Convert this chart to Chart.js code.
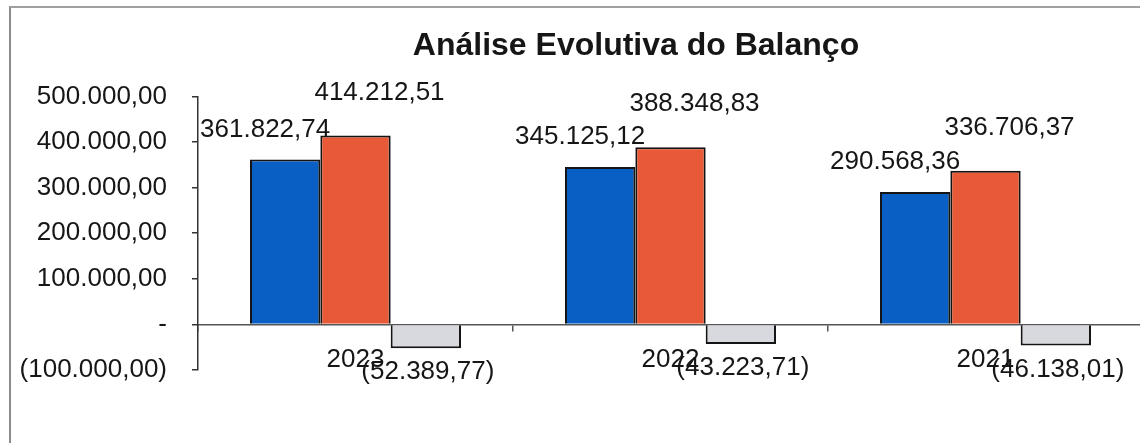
<!DOCTYPE html>
<html lang="pt-BR">
<head>
<meta charset="utf-8">
<title>Análise Evolutiva do Balanço</title>
<script src="https://cdn.jsdelivr.net/npm/chart.js@4.4.1/dist/chart.umd.min.js"></script>
<style>
  html,body{margin:0;padding:0;background:#fff;overflow:hidden}
  /* the scan is cut off on the right: the chart itself is wider than the window */
  #wrap{position:relative;width:1272px;height:443px}
  /* scanned frame: only left + top edges are visible in the picture */
  #frame{position:absolute;left:9px;top:6px;width:1300px;height:460px;border-left:2px solid #8c8c8c;border-top:2px solid #a0a0a0}
  #chart{position:absolute;left:0;top:0}
</style>
</head>
<body>
<div id="wrap">
  <div id="frame"></div>
  <canvas id="chart" width="1272" height="443"></canvas>
</div>
<script>
/* ── Data ── */
var categories = ['2023', '2022', '2021'];
var serie1 = [361822.74, 345125.12, 290568.36];   // azul
var serie2 = [414212.51, 388348.83, 336706.37];   // laranja
var serie3 = [-52389.77, -43223.71, -46138.01];   // cinza
var yMin = -100000, yMax = 500000, yStep = 100000;

var FONT = '"Liberation Sans", Arial, sans-serif';
var INK = '#161616';

/* ── pt-BR number format, accounting style: negatives in (), zero as "-" ── */
function fmtBR(v){
  if(v === 0) return '-';
  var abs = Math.abs(v);
  var parts = abs.toFixed(2).split('.');
  var intPart = parts[0].replace(/\B(?=(\d{3})+(?!\d))/g, '.');
  var s = intPart + ',' + parts[1];
  return v < 0 ? '(' + s + ')' : s;
}

/* ── Value labels (dragged around in the original, so each series gets its own nudge) ── */
var labelNudge = [
  {dx:-20, dy:-30},  // serie1: up-left of the bar top
  {dx: 24, dy:-43},  // serie2: up-right
  {dx:  2, dy: 24}   // serie3: under the bar
];

var valueLabels = {
  id:'valueLabels',
  afterDatasetsDraw:function(chart){
    var ctx = chart.ctx;
    ctx.save();
    ctx.font = '26px ' + FONT;
    ctx.fillStyle = INK;
    ctx.textAlign = 'center';
    ctx.textBaseline = 'middle';
    chart.data.datasets.forEach(function(ds, i){
      var meta = chart.getDatasetMeta(i);
      var n = labelNudge[i];
      meta.data.forEach(function(bar, j){
        var v = ds.data[j];
        var edge = v < 0 ? Math.max(bar.y, bar.base) : Math.min(bar.y, bar.base);
        ctx.fillText(fmtBR(v), bar.x + n.dx, edge + n.dy);
      });
    });
    ctx.restore();
  }
};

/* ── Chart ── */
var chart = new Chart(document.getElementById('chart'), {
  type:'bar',
  data:{
    labels:categories,
    datasets:[
      {label:'Série 1', data:serie1, backgroundColor:'#0a5fc4', borderColor:'#141414', borderWidth:2},
      {label:'Série 2', data:serie2, backgroundColor:'#e85a37', borderColor:'#141414', borderWidth:2},
      {label:'Série 3', data:serie3, backgroundColor:'#d7d9de', borderColor:'#141414', borderWidth:2}
    ]
  },
  options:{
    responsive:false,
    animation:false,
    layout:{padding:{left:0, right:0, top:0, bottom:73}},
    datasets:{bar:{categoryPercentage:0.67, barPercentage:1.0}},
    plugins:{
      legend:{display:false},
      tooltip:{enabled:false},
      title:{
        display:true,
        text:'Análise Evolutiva do Balanço',
        color:INK,
        font:{family:FONT, size:32, weight:'bold'},
        padding:{top:27, bottom:31}
      }
    },
    scales:{
      x:{
        position:{y:0},
        offset:true,
        grid:{display:true, drawOnChartArea:false, offset:true, tickLength:6, color:'#555', lineWidth:1.5},
        border:{display:true, color:'#555', width:1.5},
        ticks:{color:INK, font:{family:FONT, size:26}, padding:14, maxRotation:0}
      },
      y:{
        min:yMin, max:yMax,
        afterFit:function(s){ s.width = 198; },
        grid:{display:true, drawOnChartArea:false, tickLength:6, color:'#333', lineWidth:1.5},
        border:{display:true, color:'#333', width:1.5},
        ticks:{stepSize:yStep, color:INK, font:{family:FONT, size:26}, padding:25, callback:function(v){ return fmtBR(v); }}
      },
      // empty right-hand strip: the part of the chart that falls outside the scan
      yRight:{
        position:'right',
        min:yMin, max:yMax,
        afterFit:function(s){ s.width = 129; },
        grid:{display:false},
        border:{display:false},
        ticks:{display:false}
      }
    }
  },
  plugins:[valueLabels]
});
</script>
</body>
</html>
